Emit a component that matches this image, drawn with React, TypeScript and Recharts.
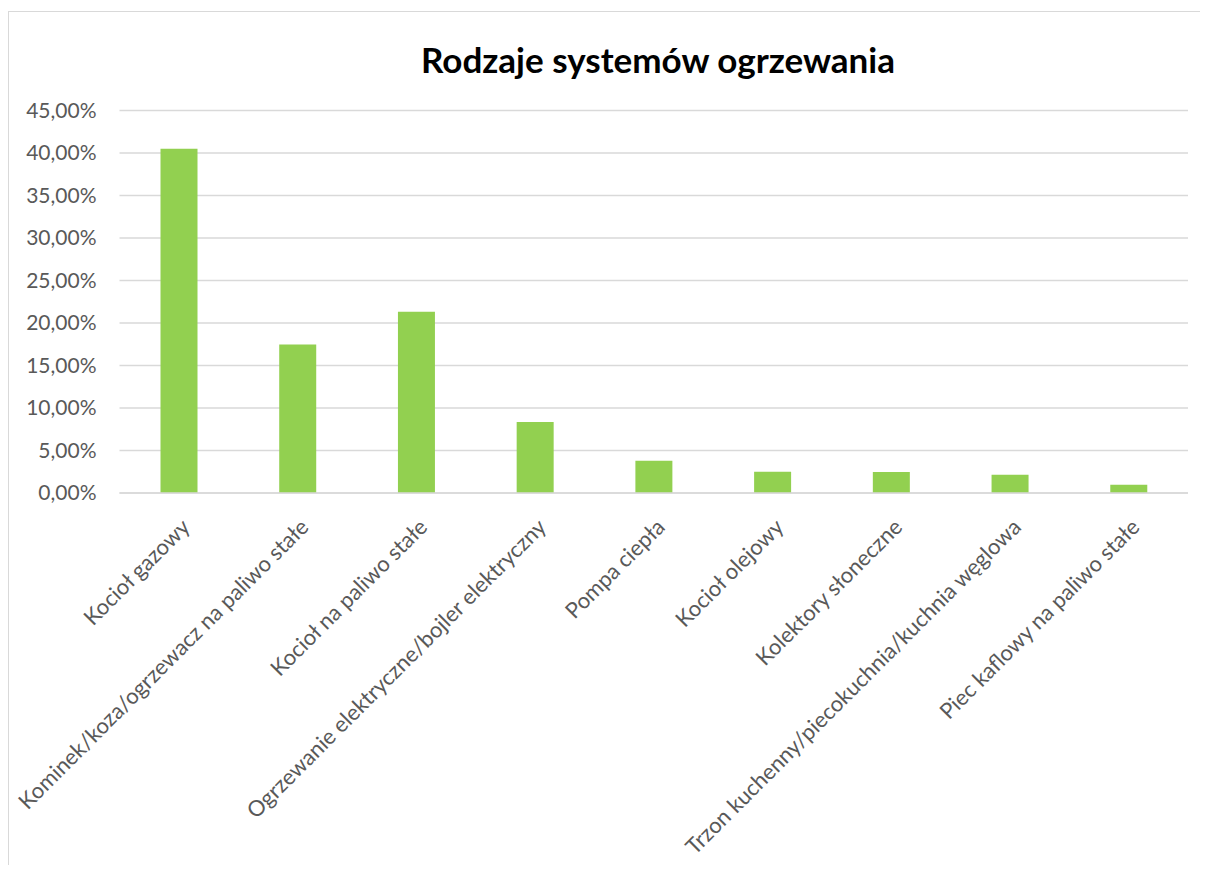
import React from 'react';
import { BarChart, Bar, XAxis, YAxis, CartesianGrid } from 'recharts';

const categories = [
  'Kocioł gazowy',
  'Kominek/koza/ogrzewacz na paliwo stałe',
  'Kocioł na paliwo stałe',
  'Ogrzewanie elektryczne/bojler elektryczny',
  'Pompa ciepła',
  'Kocioł olejowy',
  'Kolektory słoneczne',
  'Trzon kuchenny/piecokuchnia/kuchnia węglowa',
  'Piec kaflowy na paliwo stałe',
];

// udział w procentach
const shares = [40.5, 17.47, 21.33, 8.35, 3.8, 2.5, 2.47, 2.15, 0.98];

const yTicks = [0, 5, 10, 15, 20, 25, 30, 35, 40, 45];

const data = categories.map((name, i) => ({ name, value: shares[i] }));

const FONT = 'Lato, "Noto Sans", sans-serif';
const LABEL = '#595959';

const fmtPct = (v: number) => `${v.toFixed(2).replace('.', ',')}%`;

const XTick = (props: any) => {
  const { x, y, payload } = props;
  return (
    <g transform={`translate(${x + 7},${y + 30})`}>
      <text
        x={0}
        y={0}
        dy="0.35em"
        textAnchor="end"
        transform="rotate(-45)"
        fill={LABEL}
        fontSize={22}
        fontFamily={FONT}
      >
        {payload.value}
      </text>
    </g>
  );
};

export default function App() {
  return (
    <div
      style={{
        position: 'relative',
        marginTop: 3,
        width: 1192,
        height: 854,
        borderLeft: '1.5px solid #d9d9d9',
        borderTop: '1.5px solid #d9d9d9',
        boxSizing: 'border-box',
        fontFamily: FONT,
      }}
    >
      <div
        style={{
          position: 'absolute',
          left: 649 - 400,
          width: 800,
          top: 27,
          textAlign: 'center',
          fontSize: 35,
          fontWeight: 700,
          color: '#000',
          lineHeight: '40px',
        }}
      >
        Rodzaje systemów ogrzewania
      </div>
      <BarChart
        width={1190}
        height={852}
        data={data}
        margin={{ top: 98.5, right: 11, bottom: 0, left: 0 }}
      >
        <CartesianGrid vertical={false} stroke="#d9d9d9" strokeWidth={1.3} />
        <XAxis
          dataKey="name"
          interval={0}
          height={371}
          tickLine={false}
          tickSize={0}
          tickMargin={0}
          axisLine={{ stroke: '#d9d9d9', strokeWidth: 1.3 }}
          tick={<XTick />}
        />
        <YAxis
          width={110.5}
          domain={[0, 45]}
          ticks={yTicks}
          tickFormatter={fmtPct}
          axisLine={false}
          tickLine={false}
          tickSize={0}
          tickMargin={23}
          tick={{ fill: LABEL, fontSize: 21, fontFamily: FONT }}
        />
        <Bar dataKey="value" fill="#92d050" barSize={37} isAnimationActive={false} />
      </BarChart>
    </div>
  );
}
